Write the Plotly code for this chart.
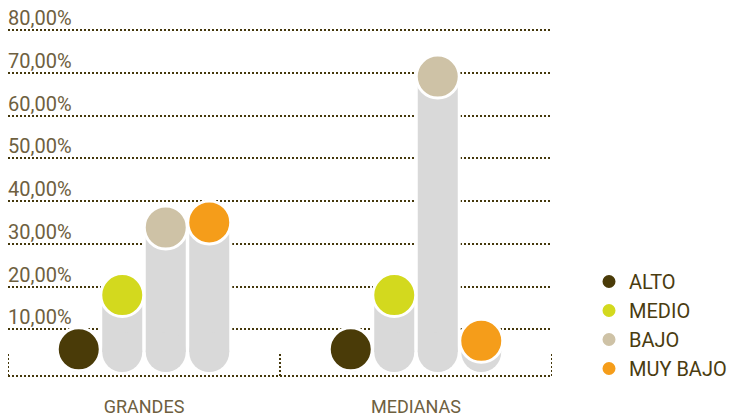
import plotly.graph_objects as go

# ---- data ----
categories = ["GRANDES", "MEDIANAS"]
series_names = ["ALTO", "MEDIO", "BAJO", "MUY BAJO"]
alto = [5.3, 5.3]
medio = [18.0, 18.0]
bajo = [33.8, 69.1]
muy_bajo = [35.0, 7.3]
tick_values = [10, 20, 30, 40, 50, 60, 70, 80]
tick_labels = ["10,00%", "20,00%", "30,00%", "40,00%", "50,00%", "60,00%", "70,00%", "80,00%"]

series_values = [alto, medio, bajo, muy_bajo]
series_colors = ["#4a3b08", "#d3d91e", "#cec2a6", "#f59d1a"]

# ---- layout geometry ----
W, H = 730, 418
m_l, m_r, m_t, m_b = 8, 178, 24, 42
plot_w = W - m_l - m_r
plot_h = H - m_t - m_b
ppu = 4.275                      # pixels per percentage point
zero_px = 372                    # pixel row of 0 %
y_min = -(H - m_b - zero_px) / ppu
y_max = (zero_px - m_t) / ppu
px_per_unit_x = plot_w / 2.0

bar_px = 40          # gray column width
halo_px = 46         # white gap around column
slot = 43.5 / px_per_unit_x
base_val = (bar_px / 2) / ppu   # center of rounded bottom

dot_color = "#45380c"
label_color = "#6e6040"
gray = "#d9d9d9"

fig = go.Figure()

def xpos(k, i):
    return i + (k - 1.5) * slot

# layer 1: white halos
hx, hy, bx, by = [], [], [], []
for k, vals in enumerate(series_values):
    for i, v in enumerate(vals):
        hx += [xpos(k, i), xpos(k, i), None]
        hy += [base_val, v, None]
        bx.append(xpos(k, i))
        by.append(base_val)
fig.add_trace(go.Scatter(x=hx, y=hy, mode="lines", line=dict(color="white", width=halo_px),
                         showlegend=False, hoverinfo="skip", cliponaxis=False))
fig.add_trace(go.Scatter(x=bx, y=by, mode="markers",
                         marker=dict(color="white", size=halo_px, line=dict(width=0)),
                         showlegend=False, hoverinfo="skip", cliponaxis=False))
# layer 2: gray columns
fig.add_trace(go.Scatter(x=hx, y=hy, mode="lines", line=dict(color=gray, width=bar_px),
                         showlegend=False, hoverinfo="skip", cliponaxis=False))
fig.add_trace(go.Scatter(x=bx, y=by, mode="markers",
                         marker=dict(color=gray, size=bar_px, line=dict(width=0)),
                         showlegend=False, hoverinfo="skip", cliponaxis=False))
# layer 3: coloured circles
for k, (name, vals, col) in enumerate(zip(series_names, series_values, series_colors)):
    fig.add_trace(go.Scatter(
        x=[xpos(k, i) for i in range(len(categories))], y=vals, mode="markers", name=name,
        legendgroup=name,
        marker=dict(color=col, size=43, line=dict(color="white", width=3)),
        cliponaxis=False, hovertemplate="%{y:.2f}%<extra>" + name + "</extra>"))

# baseline and category separators
fig.add_shape(type="line", xref="paper", yref="paper", x0=0, x1=1, y0=0, y1=0,
              line=dict(color=dot_color, width=2, dash="2px,2px"), layer="below")
for i in range(len(categories) + 1):
    fig.add_shape(type="line", xref="x", yref="paper", x0=i - 0.5, x1=i - 0.5, y0=0, y1=22 / plot_h,
                  line=dict(color=dot_color, width=2, dash="2px,2px"), layer="below")

# y labels above gridlines
for v, t in zip(tick_values, tick_labels):
    fig.add_annotation(x=0, xref="paper", y=v, yref="y", text=t, showarrow=False,
                       xanchor="left", yanchor="bottom", xshift=-2, yshift=-2,
                       font=dict(family="Roboto", size=20, color=label_color, weight=400))

fig.update_layout(
    width=W, height=H, margin=dict(l=m_l, r=m_r, t=m_t, b=m_b, autoexpand=False),
    paper_bgcolor="white", plot_bgcolor="white",
    xaxis=dict(range=[-0.5, 1.5], tickvals=[0, 1], ticktext=categories, showgrid=False,
               zeroline=False, showline=False, ticks="", ticklabelstandoff=18, automargin=False,
               tickfont=dict(family="Roboto", size=18, color=label_color, weight=400), fixedrange=True),
    yaxis=dict(range=[y_min, y_max], tickvals=tick_values, showticklabels=False, showgrid=True,
               gridcolor=dot_color, gridwidth=2, griddash="2px,2px", zeroline=False,
               showline=False, fixedrange=True, automargin=False),
    legend=dict(xref="container", yref="container", x=589 / W, y=1 - 262 / H,
                xanchor="left", yanchor="top", tracegroupgap=0,
                font=dict(family="Roboto", size=20, color="#4a3c10", weight=400), itemsizing="trace",
                bgcolor="rgba(0,0,0,0)"),
    showlegend=True,
)

fig.write_html("out.html")
